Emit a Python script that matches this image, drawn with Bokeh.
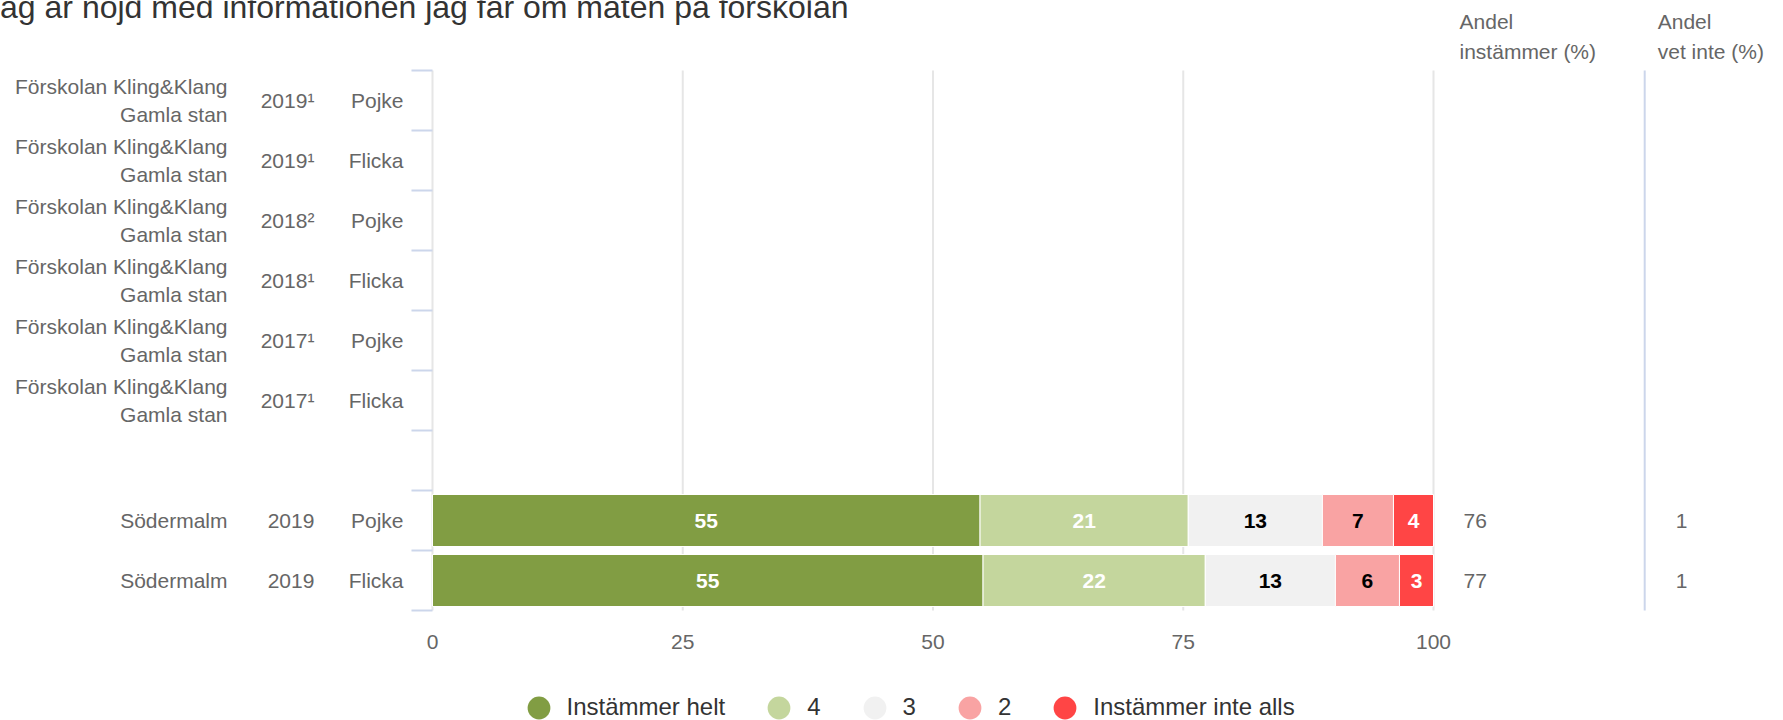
import numpy as np
from bokeh.plotting import figure
from bokeh.models import Range1d, Legend, LegendItem
from bokeh.core.properties import value
from bokeh.embed import file_html
from bokeh.resources import INLINE

# ---------------- data ----------------
title_text = "Jag är nöjd med informationen jag får om maten på förskolan"
schools = ["Förskolan Kling&Klang\nGamla stan"] * 6 + ["", "Södermalm", "Södermalm"]
years = ["2019¹", "2019¹", "2018²", "2018¹", "2017¹", "2017¹", "", "2019", "2019"]
genders = ["Pojke", "Flicka", "Pojke", "Flicka", "Pojke", "Flicka", "", "Pojke", "Flicka"]

series_names = ["Instämmer helt", "4", "3", "2", "Instämmer inte alls"]
instammer_helt = [None] * 7 + [54.7, 55.0]
svar_4 = [None] * 7 + [20.8, 22.2]
svar_3 = [None] * 7 + [13.4, 13.0]
svar_2 = [None] * 7 + [7.1, 6.4]
instammer_inte_alls = [None] * 7 + [4.0, 3.4]
andel_instammer = [None] * 7 + [76, 77]
andel_vet_inte = [None] * 7 + [1, 1]
x_ticks = [0, 25, 50, 75, 100]
header_instammer = "Andel\ninstämmer (%)"
header_vet_inte = "Andel\nvet inte (%)"

# ---------------- styles ----------------
series_colors = ["#819d43", "#c4d69d", "#f1f1f1", "#f9a3a3", "#ff4545"]
label_colors = ["#ffffff", "#ffffff", "#000000", "#000000", "#ffffff"]
FONT = value("Liberation Sans")
GREY_TXT = "#666666"

W, H = 1783, 720
PX = 10.01           # px per x unit
X0 = 432             # canvas px of x = 0
ROW = 60.0           # px per row
Y0 = 70              # canvas px of first row boundary

n_rows = len(genders)
ys = np.arange(n_rows) + 0.5

p = figure(width=W, height=H, output_backend="svg", toolbar_location=None,
           x_axis_location=None, y_axis_location=None,
           x_range=Range1d(-X0 / PX, (W - X0) / PX),
           y_range=Range1d((H - Y0) / ROW, -Y0 / ROW),
           min_border=0, outline_line_color=None,
           background_fill_color="white", border_fill_color="white")
p.grid.visible = False

# grid lines and axis decorations
p.segment(x0=x_ticks, x1=x_ticks, y0=[0] * len(x_ticks), y1=[n_rows] * len(x_ticks),
          line_color="#e6e6e6", line_width=2)
bounds = np.arange(n_rows + 1)
p.segment(x0=[-2.1] * len(bounds), x1=[0] * len(bounds), y0=bounds, y1=bounds,
          line_color="#ccd6eb", line_width=2)
p.segment(x0=[121.1], x1=[121.1], y0=[0], y1=[n_rows], line_color="#ccd6eb", line_width=2)

# stacked bars
series = [instammer_helt, svar_4, svar_3, svar_2, instammer_inte_alls]
vals = np.array([[np.nan if v is None else v for v in s] for s in series], dtype=float)
left = np.zeros(n_rows)
for k, name in enumerate(series_names):
    v = vals[k]
    right = left + v
    p.hbar(y=ys, left=left, right=right, height=0.867,
           fill_color=series_colors[k], line_color="white", line_width=1)
    mask = ~np.isnan(v)
    p.text(x=((left + right) / 2)[mask], y=ys[mask],
           text=[str(int(round(t))) for t in v[mask]],
           text_font=FONT, text_font_size="21px", text_font_style="bold",
           text_color=label_colors[k], text_align="center", text_baseline="middle")
    left = right

# category labels
p.text(x=[-20.48] * n_rows, y=ys, text=schools, text_font=FONT, text_font_size="21px",
       text_color=GREY_TXT, text_align="right", text_baseline="middle", text_line_height=1.19)
p.text(x=[-11.8] * n_rows, y=ys, text=years, text_font=FONT, text_font_size="21px",
       text_color=GREY_TXT, text_align="right", text_baseline="middle")
p.text(x=[-2.9] * n_rows, y=ys, text=genders, text_font=FONT, text_font_size="21px",
       text_color=GREY_TXT, text_align="right", text_baseline="middle")

# x tick labels
p.text(x=x_ticks, y=[9.52] * len(x_ticks), text=[str(t) for t in x_ticks],
       text_font=FONT, text_font_size="21px", text_color=GREY_TXT,
       text_align="center", text_baseline="middle")

# right-hand columns
mask_a = [i for i, v in enumerate(andel_instammer) if v is not None]
p.text(x=[103.0] * len(mask_a), y=ys[mask_a], text=[str(andel_instammer[i]) for i in mask_a],
       text_font=FONT, text_font_size="21px", text_color=GREY_TXT,
       text_align="left", text_baseline="middle")
mask_v = [i for i, v in enumerate(andel_vet_inte) if v is not None]
p.text(x=[124.2] * len(mask_v), y=ys[mask_v], text=[str(andel_vet_inte[i]) for i in mask_v],
       text_font=FONT, text_font_size="21px", text_color=GREY_TXT,
       text_align="left", text_baseline="middle")
p.text(x=[102.6, 122.4], y=[-0.567, -0.567], text=[header_instammer, header_vet_inte],
       text_font=FONT, text_font_size="21px", text_color=GREY_TXT,
       text_align="left", text_baseline="middle", text_line_height=1.33)

# title (cut off at the top-left, as in the reference)
p.text(x=[-44.8], y=[-1.058], text=[title_text], text_font=FONT, text_font_size="32px",
       text_color="#333333", text_align="left", text_baseline="middle")

# legend with circle symbols
items = []
for k, name in enumerate(series_names):
    r = p.scatter(x=[np.nan], y=[np.nan], marker="circle", size=23,
                  fill_color=series_colors[k], line_color=None)
    items.append(LegendItem(label=name, renderers=[r]))
legend = Legend(items=items, orientation="horizontal", location=(509.5, -15.5),
                glyph_width=57, glyph_height=57, label_standoff=0, spacing=25,
                padding=0, margin=0, border_line_color=None, background_fill_alpha=0,
                label_text_font="Liberation Sans", label_text_font_size="24px",
                label_text_color="#333333", label_width=0, label_height=0)
p.add_layout(legend)

open("out.html", "w").write(file_html(p, INLINE))
